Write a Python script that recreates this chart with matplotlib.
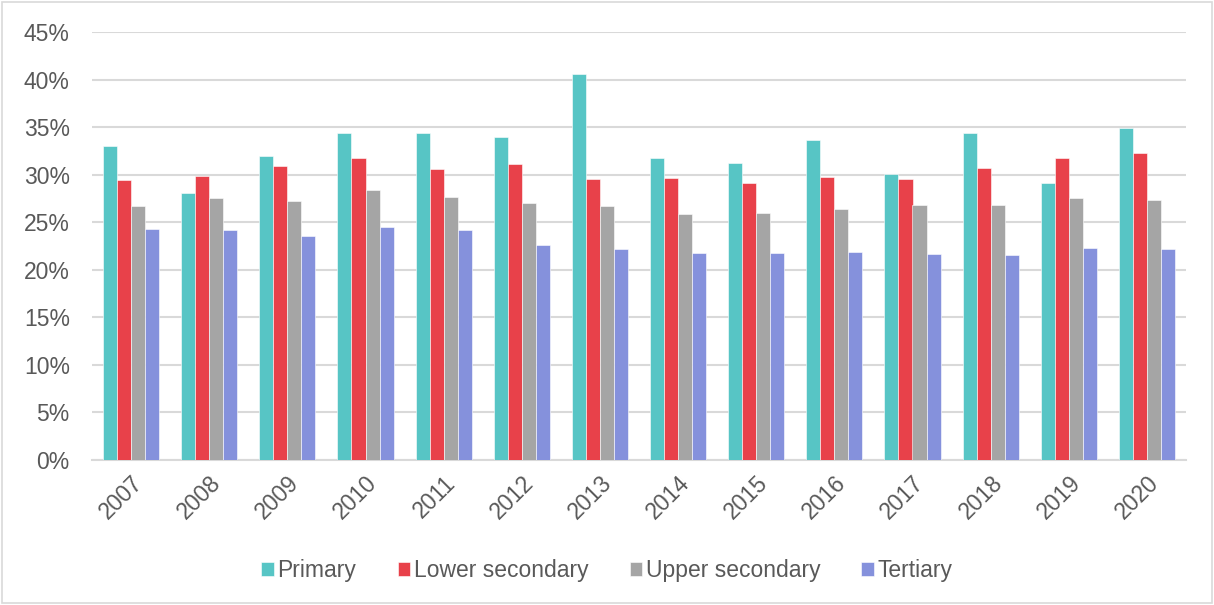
import matplotlib
matplotlib.use("Agg")
import matplotlib.pyplot as plt
from matplotlib.patches import Rectangle
from matplotlib.ticker import MultipleLocator, FuncFormatter
import numpy as np

plt.rcParams['font.family'] = ['Liberation Sans', 'DejaVu Sans']

years = ["2007", "2008", "2009", "2010", "2011", "2012", "2013",
         "2014", "2015", "2016", "2017", "2018", "2019", "2020"]
primary = [33.0, 28.1, 32.0, 34.4, 34.4, 34.0, 40.6, 31.8, 31.2, 33.6, 30.1, 34.4, 29.1, 34.9]
lower_secondary = [29.4, 29.9, 30.9, 31.8, 30.6, 31.1, 29.5, 29.7, 29.1, 29.8, 29.5, 30.7, 31.8, 32.3]
upper_secondary = [26.7, 27.5, 27.2, 28.4, 27.7, 27.0, 26.7, 25.9, 26.0, 26.4, 26.8, 26.8, 27.5, 27.3]
tertiary = [24.3, 24.2, 23.6, 24.5, 24.2, 22.6, 22.2, 21.8, 21.8, 21.9, 21.7, 21.6, 22.3, 22.2]

series = [
    ("Primary", primary, "#57C5C5"),
    ("Lower secondary", lower_secondary, "#E8414A"),
    ("Upper secondary", upper_secondary, "#A5A5A5"),
    ("Tertiary", tertiary, "#8591DC"),
]

text_color = "#595959"
grid_color = "#D9D9D9"
font_size = 16.5

fig = plt.figure(figsize=(12.14, 6.05), dpi=100)
ax = fig.add_axes([92 / 1214, 1 - 460 / 605, (1186 - 92) / 1214, (460 - 32) / 605])

x = np.arange(len(years))
width = 0.18
for i, (name, vals, color) in enumerate(series):
    ax.bar(x + (i - 1.5) * width, vals, width, color=color, label=name,
           edgecolor="white", linewidth=0.4, zorder=3)

ax.set_xlim(-0.5, len(years) - 0.5)
ax.set_ylim(0, 45)
ax.yaxis.set_major_locator(MultipleLocator(5))
ax.yaxis.set_major_formatter(FuncFormatter(lambda v, p: f"{v:.0f}%"))
ax.grid(axis="y", color=grid_color, linewidth=1.5, zorder=0)
ax.set_axisbelow(True)
for side in ["top", "right", "left"]:
    ax.spines[side].set_visible(False)
ax.spines["bottom"].set_color(grid_color)
ax.spines["bottom"].set_linewidth(1.5)

ax.set_xticks(x)
ax.set_xticklabels(years, rotation=45, ha="right", rotation_mode="anchor")
ax.tick_params(axis="x", length=0, pad=8, labelsize=font_size, labelcolor=text_color)
ax.tick_params(axis="y", length=0, pad=16, labelsize=font_size, labelcolor=text_color)

leg = fig.legend(loc="center", bbox_to_anchor=(0.5, 1 - 571 / 605), ncol=4, frameon=False,
                 fontsize=font_size, handlelength=0.55, handleheight=0.55, handletextpad=0.15,
                 columnspacing=1.8)
for t in leg.get_texts():
    t.set_color(text_color)

fig.patches.append(Rectangle((2 / 1214, 2 / 605), 1 - 4 / 1214, 1 - 4 / 605,
                             transform=fig.transFigure, fill=False,
                             edgecolor="#D9D9D9", linewidth=1.2))

fig.savefig("out.png", dpi=100, facecolor="white")
